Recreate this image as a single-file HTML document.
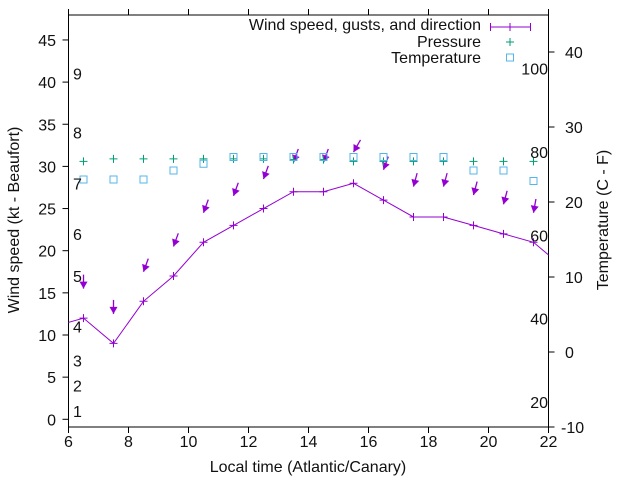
<!DOCTYPE html>
<html><head><meta charset="utf-8"><style>
html,body{margin:0;padding:0;background:#fff}
svg{display:block;font-family:"Liberation Sans",sans-serif}
</style></head><body>
<svg id="chart" width="640" height="480" viewBox="0 0 640 480" xmlns="http://www.w3.org/2000/svg">
<defs><clipPath id="clip"><rect x="68.5" y="15" width="480" height="412"/></clipPath></defs>
<g id="axes"></g>
<g id="marks" clip-path="url(#clip)"></g>
<g id="labels"></g>
</svg>
<script>
const hours = [5.5,6.5,7.5,8.5,9.5,10.5,11.5,12.5,13.5,14.5,15.5,16.5,17.5,18.5,19.5,20.5,21.5,22.5];
const windSpeed = [11,12,9,14,17,21,23,25,27,27,28,26,24,24,23,22,21,18];
const gustHours = [6.5,7.5,8.5,9.5,10.5,11.5,12.5,13.5,14.5,15.5,16.5,17.5,18.5,19.5,20.5,21.5];
const gustSpeed = [15.5,12.5,17.5,20.5,24.5,26.5,28.5,30.5,30.5,31.7,29.6,27.6,27.6,26.6,25.5,24.5];
const gustDir = [0,0,20,20,20,20,20,20,20,30,20,15,15,15,15,10];
const pressure = [30.6,30.9,30.9,30.9,30.9,30.9,30.9,30.8,30.8,30.6,30.6,30.6,30.6,30.6,30.6,30.6];
const temperature = [23,23,23,24.2,25.1,26,26,26,26,26,26,26,26,24.2,24.2,22.8];
const xTicks = [6,8,10,12,14,16,18,20,22];
const yTicks = [0,5,10,15,20,25,30,35,40,45];
const y2Ticks = [-10,0,10,20,30,40];
const beaufort = [1,4,7,11,17,22,28,34,41];
const fahrenheit = [20,40,60,80,100];

const L=68.5,R=548.5,T=15,B=427;
const X=h=>L+(h-6)*30;
const Y=v=>419.3-v*8.43;
const Y2=c=>352-c*7.5;
const NS='http://www.w3.org/2000/svg';
function mk(tag,parent,attrs,text){const e=document.createElementNS(NS,tag);for(const k in attrs)e.setAttribute(k,attrs[k]);if(text!==undefined)e.textContent=text;document.getElementById(parent).appendChild(e);return e;}

const ax='axes',lb='labels',mg='marks';
let e=mk('rect',ax,{x:L,y:T,width:R-L,height:B-T,fill:'none',stroke:'#000','stroke-width':1});


xTicks.forEach(t=>{
  let tk=mk('path',ax,{d:`M${X(t)},${B}v6M${X(t)},${T}v-6`,stroke:'#000'});
  
  
  let tl=mk('text',lb,{x:X(t),y:447,'font-size':16,'text-anchor':'middle',fill:'#111'},t);
  
  
});
yTicks.forEach(t=>{
  let tk=mk('path',ax,{d:`M${L},${Y(t)}h-6`,stroke:'#000'});
  
  
  let tl=mk('text',lb,{x:56,y:Y(t)+6,'font-size':16,'text-anchor':'end',fill:'#111'},t);
  
  
});
y2Ticks.forEach(t=>{
  let tk=mk('path',ax,{d:`M${R},${Y2(t)}h6`,stroke:'#000'});
  
  
  let tl=mk('text',lb,{x:t<0?561:565,y:Y2(t)+6,'font-size':16,fill:'#111'},t);
  
  
});
beaufort.forEach((v,i)=>{
  let tl=mk('text',lb,{x:73,y:Y(v)+6,'font-size':16,fill:'#111'},i+1);
  
  
});
fahrenheit.forEach(f=>{
  let tl=mk('text',lb,{x:548,y:Y2((f-32)*5/9)+6,'font-size':16,'text-anchor':'end',fill:'#111'},f);
  
  
});
e=mk('text',lb,{x:308,y:472,'font-size':16,'text-anchor':'middle',fill:'#111'},'Local time (Atlantic/Canary)');


e=mk('text',lb,{x:0,y:0,'font-size':16,'text-anchor':'middle',fill:'#111',transform:'translate(19,220) rotate(-90)'},'Wind speed (kt - Beaufort)');


e=mk('text',lb,{x:0,y:0,'font-size':16,'text-anchor':'middle',fill:'#111',transform:'translate(608,220) rotate(-90)'},'Temperature (C - F)');



// wind line
e=mk('polyline',mg,{points:hours.map((h,i)=>X(h)+','+Y(windSpeed[i])).join(' '),fill:'none',stroke:'#9400d3','stroke-width':1});


hours.forEach((h,i)=>{
  const x=X(h),y=Y(windSpeed[i]);
  let p=mk('path',mg,{d:`M${x-4},${y}h8M${x},${y-4}v8`,stroke:'#9400d3'});
  
  
});
// gust arrows
gustHours.forEach((h,i)=>{
  const x=X(h),y=Y(gustSpeed[i]),a=gustDir[i]*Math.PI/180;
  const ux=Math.sin(a),uy=-Math.cos(a);
  const tx=x+ux*14,ty=y+uy*14;
  const bx=x+ux*7,by=y+uy*7,px=-uy*4,py=ux*4;
  let g=mk('g',mg,{});
  
  
  const l=document.createElementNS(NS,'path');l.setAttribute('d',`M${tx},${ty}L${x},${y}`);l.setAttribute('stroke','#9400d3');l.setAttribute('stroke-width','1.3');g.appendChild(l);
  const hd=document.createElementNS(NS,'path');hd.setAttribute('d',`M${x},${y}L${bx+px},${by+py}L${bx-px},${by-py}Z`);hd.setAttribute('fill','#9400d3');g.appendChild(hd);
});
// pressure
gustHours.forEach((h,i)=>{
  const x=X(h),y=Y(pressure[i]);
  let p=mk('path',mg,{d:`M${x-4},${y}h8M${x},${y-4}v8`,stroke:'#009e73','stroke-width':1});
  
  
});
// temperature
gustHours.forEach((h,i)=>{
  const x=X(h),y=Y2(temperature[i]);
  let p=mk('rect',mg,{x:x-3.5,y:y-3.5,width:7,height:7,fill:'none',stroke:'#56b4e9','stroke-width':1});
  
  
});
// legend
const leg=[['Wind speed, gusts, and direction',24],['Pressure',41],['Temperature',57]];
leg.forEach(([t,y])=>{
  let tl=mk('text',lb,{x:481,y:y+6,'font-size':16,'text-anchor':'end',fill:'#111'},t);
  
  
});
e=mk('path',lb,{d:'M490.5,27h40M490.5,23v8M530.5,23v8M506,27h8M510,23v8',stroke:'#9400d3'});


e=mk('path',lb,{d:'M506,42h8M510,38v8',stroke:'#009e73'});


e=mk('rect',lb,{x:506.5,y:54,width:7,height:7,fill:'none',stroke:'#56b4e9'});


</script>
</body></html>
